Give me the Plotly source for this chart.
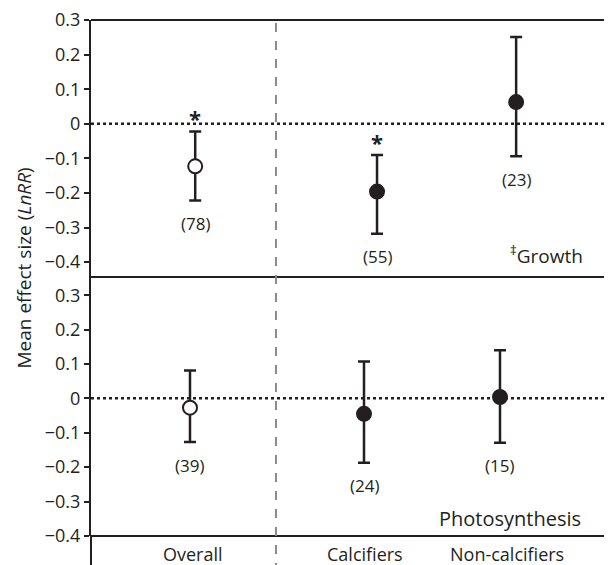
import plotly.graph_objects as go

# ---- data ----
categories = ["Overall", "Calcifiers", "Non-calcifiers"]
cat_pos = [1.96, 5.26, 7.98]           # category label positions on x axis

growth_x = [2.0, 5.49, 8.16]
growth_mean = [-0.123, -0.196, 0.063]
growth_upper = [-0.022, -0.090, 0.251]
growth_lower = [-0.222, -0.318, -0.094]
growth_n = ["(78)", "(55)", "(23)"]
growth_sig = ["*", "*", ""]

photo_x = [1.90, 5.24, 7.85]
photo_mean = [-0.027, -0.045, 0.004]
photo_upper = [0.081, 0.107, 0.140]
photo_lower = [-0.127, -0.187, -0.129]
photo_n = ["(39)", "(24)", "(15)"]

open_marker = [True, False, False]

tick_vals = [-0.4, -0.3, -0.2, -0.1, 0, 0.1, 0.2, 0.3]
tick_text = ["\u22120.4", "\u22120.3", "\u22120.2", "\u22120.1", "0", "0.1", "0.2", "0.3"]

INK = "#231f20"
FONT = "Open Sans"

fig = go.Figure()

def add_series(x, mean, upper, lower, xa, ya):
    plus = [u - m for u, m in zip(upper, mean)]
    minus = [m - l for m, l in zip(mean, lower)]
    fig.add_trace(go.Scatter(
        x=x, y=mean, mode="markers", xaxis=xa, yaxis=ya, showlegend=False,
        error_y=dict(type="data", symmetric=False, array=plus, arrayminus=minus,
                     color=INK, thickness=2.5, width=6),
        marker=dict(size=14, symbol="circle",
                    color=["white" if o else INK for o in open_marker],
                    line=dict(color=INK, width=2)),
    ))

add_series(growth_x, growth_mean, growth_upper, growth_lower, "x", "y")
add_series(photo_x, photo_mean, photo_upper, photo_lower, "x2", "y2")

split = 0.502
axis_common = dict(range=[0, 10], showgrid=False, zeroline=False, showline=False,
                   showticklabels=False, ticks="", fixedrange=True)
yaxis_common = dict(tickvals=tick_vals, ticktext=tick_text, ticks="outside", ticklen=5,
                    tickwidth=2, tickcolor=INK, showline=True, linewidth=2, linecolor=INK,
                    showgrid=False, zeroline=False, ticklabeloverflow="allow",
                    tickfont=dict(family=FONT, size=18, color=INK))

# page body has an 8px default margin -> compensate
fig.update_layout(
    width=604, height=557,
    margin=dict(l=83, r=0, t=12, b=29),
    paper_bgcolor="white", plot_bgcolor="white",
    xaxis=dict(domain=[0, 1], anchor="y", **axis_common),
    xaxis2=dict(domain=[0, 1], anchor="y2", **axis_common),
    yaxis=dict(domain=[split, 1], range=[-0.4428, 0.3002], anchor="x", **yaxis_common),
    yaxis2=dict(domain=[0, split], range=[-0.4002, 0.353], anchor="x2", **yaxis_common),
)

shapes = []
for yy in [1, split, 0]:
    shapes.append(dict(type="line", xref="paper", yref="paper", x0=0, x1=1, y0=yy, y1=yy,
                       line=dict(color=INK, width=2)))
shapes.append(dict(type="line", xref="paper", yref="paper", x0=0, x1=0, y0=0, y1=-0.07,
                   line=dict(color=INK, width=2)))
shapes.append(dict(type="line", xref="x", yref="paper", x0=3.55, x1=3.55, y0=-0.07, y1=1.0,
                   line=dict(color="#8a8a8a", width=2, dash="dash")))
shapes.append(dict(type="line", xref="paper", yref="y", x0=0, x1=1, y0=0, y1=0,
                   line=dict(color=INK, width=2.5, dash="dot")))
shapes.append(dict(type="line", xref="paper", yref="y2", x0=0, x1=1, y0=0, y1=0,
                   line=dict(color=INK, width=2.5, dash="dot")))
fig.update_layout(shapes=shapes)

C = dict(xanchor="center", yanchor="middle", showarrow=False)
ann = []
for x, lo, n in zip(growth_x, growth_lower, growth_n):
    ann.append(dict(x=x, y=lo, xref="x", yref="y", text=n, yshift=-23,
                    font=dict(family=FONT, size=17, color=INK), **C))
for x, up, s in zip(growth_x, growth_upper, growth_sig):
    if s:
        ann.append(dict(x=x, y=up, xref="x", yref="y", text="<b>*</b>",
                        yshift=13, font=dict(family=FONT, size=22, color=INK), **C))
for x, lo, n in zip(photo_x, photo_lower, photo_n):
    ann.append(dict(x=x, y=lo, xref="x2", yref="y2", text=n, yshift=-23,
                    font=dict(family=FONT, size=17, color=INK), **C))
for x, c in zip(cat_pos, categories):
    ann.append(dict(x=x, y=-0.034, xref="x2", yref="paper", text=c,
                    font=dict(family=FONT, size=18, color=INK), **C))
ann.append(dict(x=0.875, y=-0.379, xref="paper", yref="y", text="<sup>\u2021</sup>Growth",
                font=dict(family=FONT, size=19, color=INK), **C))
ann.append(dict(x=0.805, y=-0.348, xref="paper", yref="y2", text="Photosynthesis",
                font=dict(family=FONT, size=20, color=INK), **C))
ann.append(dict(x=-0.128, y=0.519, xref="paper", yref="paper", text="Mean effect size (<i>LnRR</i>)",
                textangle=-90, font=dict(family=FONT, size=19, color=INK), **C))
fig.update_layout(annotations=ann)

fig.write_html("out.html")
